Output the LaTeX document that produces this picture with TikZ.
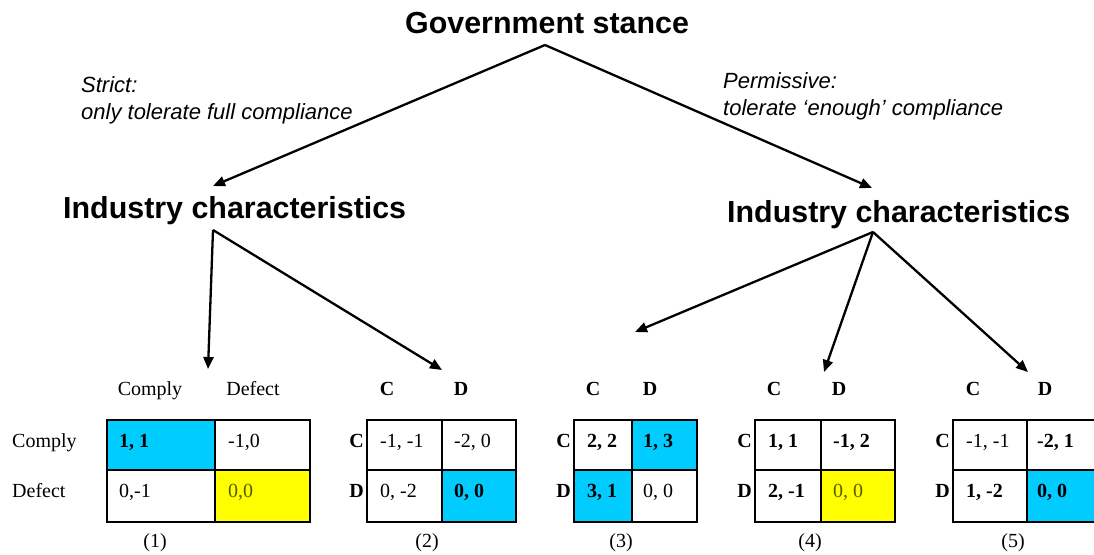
\documentclass[tikz,border=0pt]{standalone}
\usepackage{fontspec}
\setmainfont{Liberation Serif}
\setsansfont{Liberation Sans}
\usetikzlibrary{arrows.meta}
\definecolor{nashblue}{HTML}{00CCFF}
\definecolor{nashyellow}{HTML}{FFFF00}
\definecolor{olivetext}{HTML}{5A5A00}
\begin{document}
\begin{tikzpicture}[x=1pt,y=-1pt,
  title/.style={font=\sffamily\bfseries\fontsize{30.4}{36}\selectfont, inner sep=0pt, anchor=base west},
  branch/.style={font=\sffamily\itshape\fontsize{22}{27}\selectfont, inner sep=0pt, anchor=base west},
  arr/.style={line width=2.3pt, -{Triangle[length=12pt,width=10pt]}},
  cellbox/.style={inner sep=0pt, outer sep=0pt, anchor=north west},
  grid/.style={line width=2pt},
  ctext/.style={font=\fontsize{20}{24}\selectfont, inner sep=0pt, anchor=base west},
  btext/.style={ctext, font=\bfseries\fontsize{20}{24}\selectfont},
  otext/.style={ctext, text=olivetext},
  head/.style={font=\fontsize{20}{24}\selectfont, inner sep=0pt, anchor=base},
  bhead/.style={head, font=\bfseries\fontsize{20}{24}\selectfont},
  rlab/.style={font=\bfseries\fontsize{20}{24}\selectfont, inner sep=0pt, anchor=base east},
  wlab/.style={font=\fontsize{20}{24}\selectfont, inner sep=0pt, anchor=base west},
]
\useasboundingbox (0,0) rectangle (1094,554);
\clip (0,0) rectangle (1094,554);

% ---- tree ----
\node[title] (gov) at (405,33) {Government stance};
\node[title] (indL) at (63,218) {Industry characteristics};
\node[title] (indR) at (727,222) {Industry characteristics};

\node[branch] (strict1) at (81,92) {Strict:};
\node[branch] (strict2) at (81,119) {only tolerate full compliance};
\node[branch] (perm1) at (723,88) {Permissive:};
\node[branch] (perm2) at (723,115) {tolerate ‘enough’ compliance};

\coordinate (govapex) at (545,45);
\coordinate (tipL) at (213,186);
\coordinate (tipR) at (872,188);
\coordinate (indLapex) at (213,230);
\coordinate (indRapex) at (873,232);
\coordinate (t1) at (208,369);
\coordinate (t2) at (442,370);
\coordinate (t3) at (635,332);
\coordinate (t4) at (824,372);
\coordinate (t5) at (1028,372);

\draw[arr] (govapex) -- (tipL);
\draw[arr] (govapex) -- (tipR);
\draw[arr] (indLapex) -- (t1);
\draw[arr] (indLapex) -- (t2);
\draw[arr] (indRapex) -- (t3);
\draw[arr] (indRapex) -- (t4);
\draw[arr] (indRapex) -- (t5);

% ---- matrix 1 ----
\node[cellbox, fill=nashblue, minimum width=108pt, minimum height=50pt] (m1a) at (107,420) {};
\node[cellbox, minimum width=95pt, minimum height=50pt] (m1b) at (215,420) {};
\node[cellbox, minimum width=108pt, minimum height=52pt] (m1c) at (107,470) {};
\node[cellbox, fill=nashyellow, minimum width=95pt, minimum height=52pt] (m1d) at (215,470) {};
\draw[grid] (m1a.north west) rectangle (m1d.south east);
\draw[grid] (m1a.north east) -- (m1c.south east);
\draw[grid] (m1a.south west) -- (m1b.south east);
\node[head] (m1h1) at (150,395) {Comply};
\node[head] (m1h2) at (253,395) {Defect};
\node[wlab] (m1r1) at (12,447) {Comply};
\node[wlab] (m1r2) at (12,497) {Defect};
\node[btext] (m1ta) at (119,447) {1, 1};
\node[ctext] (m1tb) at (228,447) {-1,0};
\node[ctext] (m1tc) at (119,497) {0,-1};
\node[otext] (m1td) at (228,497) {0,0};
\node[head] (m1n) at (155,547) {(1)};

% ---- matrix 2 ----
\node[cellbox, minimum width=75pt, minimum height=50pt] (m2a) at (367,420) {};
\node[cellbox, minimum width=74pt, minimum height=50pt] (m2b) at (442,420) {};
\node[cellbox, minimum width=75pt, minimum height=52pt] (m2c) at (367,470) {};
\node[cellbox, fill=nashblue, minimum width=74pt, minimum height=52pt] (m2d) at (442,470) {};
\draw[grid] (m2a.north west) rectangle (m2d.south east);
\draw[grid] (m2a.north east) -- (m2c.south east);
\draw[grid] (m2a.south west) -- (m2b.south east);
\node[bhead] (m2h1) at (387,395) {C};
\node[bhead] (m2h2) at (461,395) {D};
\node[rlab] (m2r1) at (364,447) {C};
\node[rlab] (m2r2) at (364,497) {D};
\node[ctext] (m2ta) at (380,447) {-1, -1};
\node[ctext] (m2tb) at (454,447) {-2, 0};
\node[ctext] (m2tc) at (380,497) {0, -2};
\node[btext] (m2td) at (454,497) {0, 0};
\node[head] (m2n) at (427,547) {(2)};

% ---- matrix 3 ----
\node[cellbox, minimum width=58pt, minimum height=50pt] (m3a) at (574,420) {};
\node[cellbox, fill=nashblue, minimum width=65pt, minimum height=50pt] (m3b) at (632,420) {};
\node[cellbox, fill=nashblue, minimum width=58pt, minimum height=52pt] (m3c) at (574,470) {};
\node[cellbox, minimum width=65pt, minimum height=52pt] (m3d) at (632,470) {};
\draw[grid] (m3a.north west) rectangle (m3d.south east);
\draw[grid] (m3a.north east) -- (m3c.south east);
\draw[grid] (m3a.south west) -- (m3b.south east);
\node[bhead] (m3h1) at (593,395) {C};
\node[bhead] (m3h2) at (650,395) {D};
\node[rlab] (m3r1) at (571,447) {C};
\node[rlab] (m3r2) at (571,497) {D};
\node[btext] (m3ta) at (587,447) {2, 2};
\node[btext] (m3tb) at (643,447) {1, 3};
\node[btext] (m3tc) at (587,497) {3, 1};
\node[ctext] (m3td) at (643,497) {0, 0};
\node[head] (m3n) at (621,547) {(3)};

% ---- matrix 4 ----
\node[cellbox, minimum width=66pt, minimum height=50pt] (m4a) at (755,420) {};
\node[cellbox, minimum width=74pt, minimum height=50pt] (m4b) at (821,420) {};
\node[cellbox, minimum width=66pt, minimum height=52pt] (m4c) at (755,470) {};
\node[cellbox, fill=nashyellow, minimum width=74pt, minimum height=52pt] (m4d) at (821,470) {};
\draw[grid] (m4a.north west) rectangle (m4d.south east);
\draw[grid] (m4a.north east) -- (m4c.south east);
\draw[grid] (m4a.south west) -- (m4b.south east);
\node[bhead] (m4h1) at (774,395) {C};
\node[bhead] (m4h2) at (839,395) {D};
\node[rlab] (m4r1) at (752,447) {C};
\node[rlab] (m4r2) at (752,497) {D};
\node[btext] (m4ta) at (768,447) {1, 1};
\node[btext] (m4tb) at (833,447) {-1, 2};
\node[btext] (m4tc) at (768,497) {2, -1};
\node[otext] (m4td) at (833,497) {0, 0};
\node[head] (m4n) at (810,547) {(4)};

% ---- matrix 5 ----
\node[cellbox, minimum width=74pt, minimum height=50pt] (m5a) at (953,420) {};
\node[cellbox, minimum width=74pt, minimum height=50pt] (m5b) at (1027,420) {};
\node[cellbox, minimum width=74pt, minimum height=52pt] (m5c) at (953,470) {};
\node[cellbox, fill=nashblue, minimum width=74pt, minimum height=52pt] (m5d) at (1027,470) {};
\draw[grid] (m5a.north west) rectangle (m5d.south east);
\draw[grid] (m5a.north east) -- (m5c.south east);
\draw[grid] (m5a.south west) -- (m5b.south east);
\node[bhead] (m5h1) at (973,395) {C};
\node[bhead] (m5h2) at (1045,395) {D};
\node[rlab] (m5r1) at (950,447) {C};
\node[rlab] (m5r2) at (950,497) {D};
\node[ctext] (m5ta) at (966,447) {-1, -1};
\node[btext] (m5tb) at (1037,447) {-2, 1};
\node[btext] (m5tc) at (966,497) {1, -2};
\node[btext] (m5td) at (1037,497) {0, 0};
\node[head] (m5n) at (1013,547) {(5)};
\end{tikzpicture}
\end{document}
